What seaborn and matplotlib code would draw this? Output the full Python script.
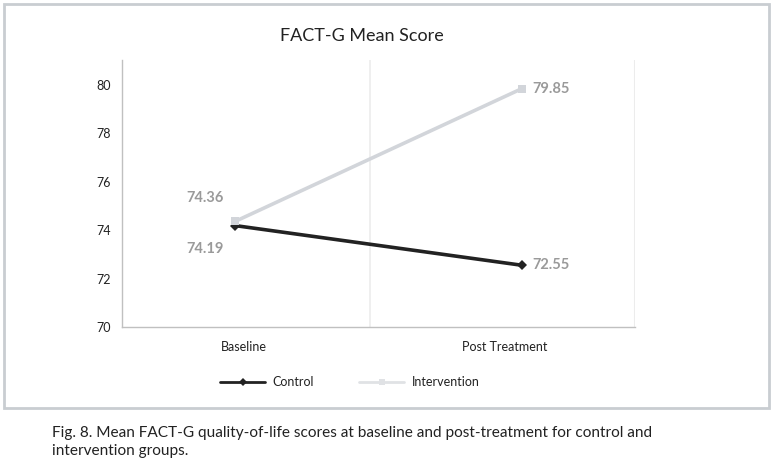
import pandas as pd
import matplotlib.pyplot as plt
import seaborn as sns
from matplotlib.patches import Rectangle
from matplotlib.lines import Line2D

# Data
timepoints = ['Baseline', 'Post Treatment']
control = [74.19, 72.55]
intervention = [74.36, 79.85]
groups = ['Control', 'Intervention']

df = pd.DataFrame({
    'time': timepoints * 2,
    'score': control + intervention,
    'group': [groups[0]] * 2 + [groups[1]] * 2,
})

sns.set_theme(style='white')
plt.rcParams['font.family'] = ['Lato', 'DejaVu Sans']

fig = plt.figure(figsize=(7.74, 4.61), dpi=100)
ax = fig.add_axes([0.1576, 0.2907, 0.6628, 0.5791])

palette = {'Control': '#222222', 'Intervention': '#d2d5da'}
markers = {'Control': 'D', 'Intervention': 's'}
sns.lineplot(data=df, x='time', y='score', hue='group', style='group',
             palette=palette, markers=markers, dashes=False, linewidth=2.6,
             markersize=5.5, markeredgewidth=0, ax=ax, legend=False, sort=False)

ax.set_xlim(-0.394, 1.394)
ax.set_ylim(70, 81.03)
ax.set_yticks(range(70, 81, 2))
# category labels sit a little off the markers in the original
ax.set_xticks([0.03, 0.94], timepoints)
ax.axvline(0.47, color='#ececec', lw=1.2, zorder=0)
ax.axvline(1.394, color='#ececec', lw=1.5, zorder=0)
for s in ['top', 'right']:
    ax.spines[s].set_visible(False)
for s in ['left', 'bottom']:
    ax.spines[s].set_color('#c0c0c0')
    ax.spines[s].set_linewidth(1.0)
ax.tick_params(axis='both', length=0, labelsize=9, colors='#222222')
ax.tick_params(axis='y', pad=8)
ax.tick_params(axis='x', pad=10)
ax.set_xlabel('')
ax.set_ylabel('')

# data labels
lab_kw = dict(fontsize=10.5, fontweight='bold', color='#9a9a9a', va='center')
ax.text(-0.105, intervention[0] + 0.95, f'{intervention[0]:.2f}', ha='center', **lab_kw)
ax.text(-0.105, control[0] - 0.95, f'{control[0]:.2f}', ha='center', **lab_kw)
ax.text(1.035, intervention[1], f'{intervention[1]:.2f}', ha='left', **lab_kw)
ax.text(1.035, control[1], f'{control[1]:.2f}', ha='left', **lab_kw)

fig.text(0.468, 0.922, 'FACT-G Mean Score', ha='center', va='center',
         fontsize=13, color='#222222')

handles = [Line2D([], [], color='#222222', lw=2, marker='D', markersize=4, markeredgewidth=0),
           Line2D([], [], color='#e0e2e5', lw=2, marker='s', markersize=4, markeredgewidth=0)]
leg = ax.legend(handles, groups, loc='center', bbox_to_anchor=(0.452, 0.171),
                bbox_transform=fig.transFigure, ncol=2, frameon=False,
                fontsize=9, handlelength=3.6, handletextpad=0.6, columnspacing=3.6)
for t in leg.get_texts():
    t.set_color('#222222')

# outer frame
fig.patches.append(Rectangle((4 / 774, 1 - 408 / 461), 765 / 774, 404 / 461,
                             transform=fig.transFigure, fill=False,
                             edgecolor='#c9cdd1', lw=2, zorder=0))

fig.text(52 / 774, 1 - 433 / 461,
         'Fig. 8. Mean FACT-G quality-of-life scores at baseline and post-treatment for control and',
         ha='left', va='center', fontsize=11.1, color='#222222')
fig.text(52 / 774, 1 - 451 / 461, 'intervention groups.',
         ha='left', va='center', fontsize=11.1, color='#222222')

fig.savefig('out.png', dpi=100)
